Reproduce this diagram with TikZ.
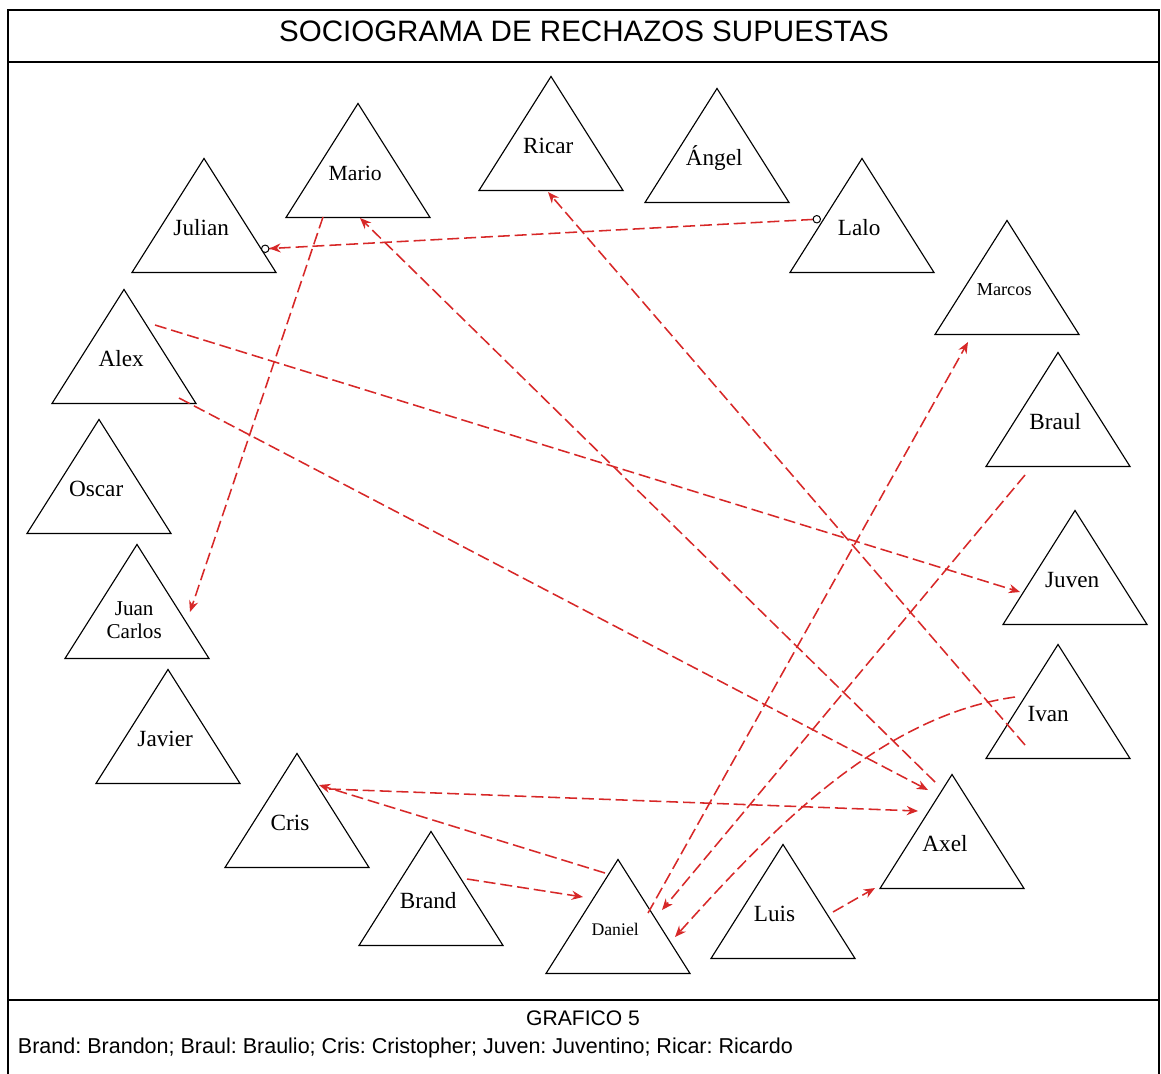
\documentclass[tikz,border=0pt]{standalone}
\usepackage{fontspec}
\setmainfont{Liberation Serif}
\newfontfamily\arialfont{Liberation Sans}
\usetikzlibrary{shapes.geometric, arrows.meta, calc}
\definecolor{rejred}{RGB}{215,40,40}
\tikzset{
    person/.style={isosceles triangle, shape border rotate=90,
    	isosceles triangle stretches, draw, line width=0.8pt,
    	minimum width=3.6cm, minimum height=2.85cm, inner sep=0pt,
    	anchor=apex}
}
\tikzset{
    nombre/.style={anchor=center, label distance=-1.775cm, xshift=-2pt,
    	font=\fontsize{16.5}{18}\selectfont}
}
\tikzset{
    rechazo/.style={draw=rejred, line width=1.1pt,
    	dash pattern=on 8.5pt off 3.5pt, -{Stealth[length=8pt, width=6.5pt]}}
}
\tikzset{
    enlace/.style={arrows={Circle[color=black, fill=white, length=6pt, line width=0.7pt]-{Stealth[length=8pt, width=6.5pt] Circle[color=black, fill=white, length=6pt, line width=0.7pt]}}}
}
\tikzset{
    marco/.style={line width=1.4pt}
}

\begin{document}
\begin{tikzpicture}[x=0.025cm, y=-0.025cm]
  \useasboundingbox (0,0) rectangle (1161,1073);
  \draw [marco] (8,1080) -- (8,10) -- (1159,10) -- (1159,1080);
  \draw [marco] (8,62) -- (1159,62);
  \draw [marco] (8,1000) -- (1159,1000);

  \node (title) [font=\arialfont\fontsize{21}{24}\selectfont] at (584,31) {SOCIOGRAMA DE RECHAZOS SUPUESTAS};
  \node (grafico) [font=\arialfont\fontsize{15}{17}\selectfont] at (583,1018) {GRAFICO 5};
  \node (leyenda) [font=\arialfont\fontsize{15.3}{17}\selectfont, anchor=west] at (13,1048) {\frenchspacing Brand: Brandon; Braul: Braulio; Cris: Cristopher; Juven: Juventino; Ricar: Ricardo};

  \node (mario) [person, label={[nombre, font=\fontsize{15.4}{17}\selectfont]90:Mario}] at (358,102) {};
  \node (ricar) [person, label={[nombre]90:Ricar}] at (551,75) {};
  \node (angel) [person, label={[nombre]90:Ángel}] at (717,87) {};
  \node (julian) [person, label={[nombre]90:Julian}] at (204,157) {};
  \node (lalo) [person, label={[nombre]90:Lalo}] at (862,157) {};
  \node (marcos) [person, label={[nombre, font=\fontsize{13}{15}\selectfont]90:Marcos}] at (1007,219) {};
  \node (alex) [person, label={[nombre]90:Alex}] at (124,288) {};
  \node (braul) [person, label={[nombre]90:Braul}] at (1058,351) {};
  \node (oscar) [person, label={[nombre]90:Oscar}] at (99,418) {};
  \node (juven) [person, label={[nombre]90:Juven}] at (1075,509) {};
  \node (juancarlos) [person, label={[nombre, align=center, label distance=-1.94cm, font=\fontsize{15}{16.4}\selectfont]90:Juan\\Carlos}] at (137,543) {};
  \node (javier) [person, label={[nombre]90:Javier}] at (168,668) {};
  \node (ivan) [person, label={[nombre, xshift=-5pt]90:Ivan}] at (1058,643) {};
  \node (cris) [person, label={[nombre, xshift=-3pt]90:Cris}] at (297,752) {};
  \node (axel) [person, label={[nombre, xshift=-3pt]90:Axel}] at (952,773) {};
  \node (brand) [person, label={[nombre]90:Brand}] at (431,830) {};
  \node (daniel) [person, label={[nombre, font=\fontsize{12.6}{14}\selectfont]90:Daniel}] at (618,858) {};
  \node (luis) [person, label={[nombre, xshift=-4pt]90:Luis}] at (783,843) {};

  \draw ($(mario.apex)+(-35,115)$) edge [rechazo] ($(juancarlos.apex)+(53,69)$);
  \draw ($(lalo.apex)+(-41,62)$) edge [rechazo, enlace] ($(julian.apex)+(57,92)$);
  \draw ($(axel.apex)+(-17,9)$) edge [rechazo] ($(mario.apex)+(2,116)$);
  \draw ($(ivan.apex)+(-33,102)$) edge [rechazo] ($(ricar.apex)+(-3,117)$);
  \draw ($(alex.apex)+(31,37)$) edge [rechazo] ($(juven.apex)+(-55,83)$);
  \draw ($(alex.apex)+(55,110)$) edge [rechazo] ($(axel.apex)+(-24,17)$);
  \draw ($(cris.apex)+(32,37)$) edge [rechazo] ($(axel.apex)+(-34,38)$);
  \draw ($(daniel.apex)+(-13,15)$) edge [rechazo] ($(cris.apex)+(22,33)$);
  \draw ($(daniel.apex)+(30,55)$) edge [rechazo] ($(marcos.apex)+(-39,123)$);
  \draw ($(braul.apex)+(-33,124)$) edge [rechazo] ($(daniel.apex)+(44,52)$);
  \draw ($(ivan.apex)+(-43,54)$) edge [rechazo, out=188, in=48, looseness=0.85] ($(daniel.apex)+(57,79)$);
  \draw ($(brand.apex)+(36,49)$) edge [rechazo] ($(daniel.apex)+(-35,39)$);
  \draw ($(luis.apex)+(50,69)$) edge [rechazo] ($(axel.apex)+(-77,115)$);
\end{tikzpicture}
\end{document}
